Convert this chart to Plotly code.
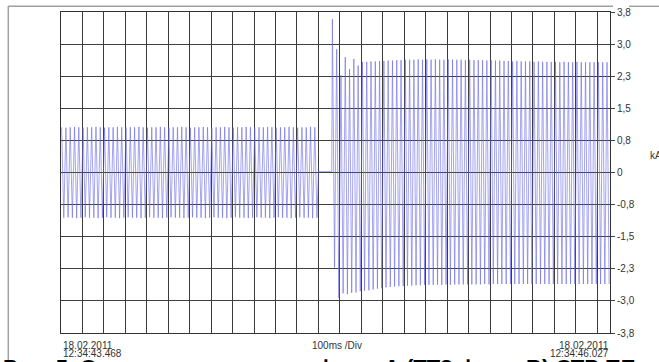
import plotly.graph_objects as go

# ---------------- data ----------------
x_range_ms = [0, 2559]                      # 18.02.2011 12:34:43.468 .. 12:34:46.027
x_grid_ms = list(range(0, 2600, 100))       # 100 ms / Div
y_tick_vals = [-3.8, -3.04, -2.28, -1.52, -0.76, 0, 0.76, 1.52, 2.28, 3.04, 3.8]
y_tick_text = ["-3,8", "-3,0", "-2,3", "-1,5", "-0,8", "0", "0,8", "1,5", "2,3", "3,0", "3,8"]

# pre-fault half-cycle peaks (kA), one per cycle
pre_pos = [1.07, 1.06, 1.07, 1.08, 1.07, 1.06, 1.07, 1.07, 1.08, 1.07,
           1.06, 1.07, 1.07, 1.08, 1.07, 1.06, 1.07, 1.07, 1.08, 1.07,
           1.06, 1.07, 1.07, 1.08, 1.07, 1.06, 1.07, 1.07, 1.08, 1.07,
           1.06, 1.07, 1.07, 1.08, 1.07, 1.06, 1.07, 1.07, 1.08, 1.07,
           1.06, 1.07, 1.07, 1.08, 1.07, 1.06, 1.07, 1.07, 1.08, 1.07,
           1.06, 1.07, 1.07, 1.08, 1.07, 1.06, 1.07, 1.07, 1.08, 1.07]
pre_neg = [-1.07, -1.06, -1.07, -1.08, -1.07, -1.06, -1.07, -1.07, -1.08, -1.07,
           -1.06, -1.07, -1.07, -1.08, -1.07, -1.06, -1.07, -1.07, -1.08, -1.07,
           -1.06, -1.07, -1.07, -1.08, -1.07, -1.06, -1.07, -1.07, -1.08, -1.07,
           -1.06, -1.07, -1.07, -1.08, -1.07, -1.06, -1.07, -1.07, -1.08, -1.07,
           -1.06, -1.07, -1.07, -1.08, -1.07, -1.06, -1.07, -1.07, -1.08, -1.07,
           -1.06, -1.07, -1.07, -1.08, -1.07, -1.06, -1.07, -1.07, -1.08, -1.07]
pre_start_ms = 3

# dead interval (~0 kA)
gap_t = [1200, 1262]
gap_v = [0.02, 0.02]

# post-fault half-cycle peaks (kA)
post_pos = [3.63, 2.92, 2.30, 2.73, 2.45, 2.69, 2.53, 2.62, 2.62, 2.63,
            2.63, 2.64, 2.64, 2.65, 2.65, 2.66, 2.66, 2.67, 2.67, 2.67,
            2.68, 2.67, 2.68, 2.67, 2.68, 2.67, 2.67, 2.68, 2.67, 2.67,
            2.67, 2.66, 2.67, 2.66, 2.66, 2.66, 2.65, 2.66, 2.65, 2.65,
            2.64, 2.64, 2.63, 2.64, 2.63, 2.63, 2.63, 2.62, 2.63, 2.62,
            2.62, 2.62, 2.62, 2.61, 2.62, 2.61, 2.61, 2.62, 2.61, 2.61,
            2.61, 2.61, 2.61, 2.61, 2.61]
post_neg = [-2.25, -2.97, -2.86, -2.88, -2.85, -2.84, -2.81, -2.80, -2.79, -2.77,
            -2.75, -2.74, -2.72, -2.71, -2.70, -2.69, -2.69, -2.68, -2.68, -2.67,
            -2.67, -2.66, -2.66, -2.66, -2.66, -2.66, -2.65, -2.66, -2.65, -2.65,
            -2.65, -2.65, -2.65, -2.65, -2.65, -2.64, -2.65, -2.64, -2.64, -2.64,
            -2.64, -2.64, -2.64, -2.64, -2.64, -2.64, -2.64, -2.64, -2.64, -2.64,
            -2.64, -2.64, -2.64, -2.64, -2.64, -2.64, -2.64, -2.64, -2.64, -2.64,
            -2.64, -2.64, -2.64, -2.64, -2.64]
post_start_ms = 1265

# ---------------- build trace ----------------
t, v = [], []
for i, (p, n) in enumerate(zip(pre_pos, pre_neg)):
    t += [pre_start_ms + 20 * i, pre_start_ms + 20 * i + 10]
    v += [p, n]
t += gap_t
v += gap_v
for i, (p, n) in enumerate(zip(post_pos, post_neg)):
    t += [post_start_ms + 20 * i, post_start_ms + 20 * i + 10]
    v += [p, n]

FONT = "Liberation Sans, Arial, sans-serif"
fig = go.Figure()
fig.add_trace(go.Scatter(x=t, y=v, mode="lines",
                         line=dict(color="rgba(100,100,230,0.65)", width=0.9),
                         hoverinfo="skip", showlegend=False))

fig.update_layout(
    template="none",
    width=659, height=362,
    margin=dict(l=61, r=49, t=12, b=29, autoexpand=False),
    paper_bgcolor="white", plot_bgcolor="white",
    showlegend=False,
    font=dict(family=FONT, size=10, color="#333"),
    xaxis=dict(range=x_range_ms, tickmode="array", tickvals=x_grid_ms,
               showticklabels=False, ticks="", showgrid=True, automargin=False,
               gridcolor="#3c3c3c", gridwidth=1, zeroline=False,
               showline=True, mirror=True, linecolor="#333", linewidth=1),
    yaxis=dict(range=[-3.8, 3.8], side="right", tickmode="array",
               tickvals=y_tick_vals, ticktext=y_tick_text, automargin=False,
               ticks="outside", ticklen=4, tickcolor="#444",
               showgrid=True, gridcolor="#3c3c3c", gridwidth=1,
               zeroline=False, showline=True, mirror=True,
               linecolor="#333", linewidth=1,
               tickfont=dict(size=10, color="#333")),
)

def px(x):
    return (x - 61) / 549

def py(y):
    return (333 - y) / 321

ann = [
    ("18.02.2011", px(61), py(345), "left"),
    ("12:34:43.468", px(61), py(353.5), "left"),
    ("100ms /Div", px(337), py(345), "center"),
    ("18.02.2011", px(611), py(345), "right"),
    ("12:34:46.027", px(611), py(353.5), "right"),
    ("kA", px(648), py(155), "left"),
]
for text, x, y, xa in ann:
    fig.add_annotation(text=text, x=x, y=y, xref="paper", yref="paper",
                       xanchor=xa, yanchor="middle", showarrow=False,
                       font=dict(size=10, color="#333", family=FONT))

# caption below (cut off by the image edge)
fig.add_annotation(text="<b>Рис. 5. Осциллограмма тока фазы А (ТТ2 фазы В) СТР ПЕ линии 6 кВ</b>",
                   x=px(1), y=py(352.5), xref="paper", yref="paper",
                   xanchor="left", yanchor="top", showarrow=False,
                   font=dict(size=22, color="black", family=FONT))

# outer frame lines
fig.add_shape(type="line", xref="paper", yref="paper", x0=px(8), x1=px(613),
              y0=py(6.3), y1=py(6.3), line=dict(color="#a0a0a0", width=1.5))
fig.add_shape(type="line", xref="paper", yref="paper", x0=px(629), x1=px(660),
              y0=py(6.3), y1=py(6.3), line=dict(color="#a0a0a0", width=1.5))
fig.add_shape(type="line", xref="paper", yref="paper", x0=px(8.3), x1=px(8.3),
              y0=py(6.3), y1=py(363), line=dict(color="#a0a0a0", width=1.5))

fig.write_html("out.html", config={"displayModeBar": False},
               post_script="document.body.style.margin='0';document.body.style.padding='0';"
                           "document.body.style.overflow='hidden';")
